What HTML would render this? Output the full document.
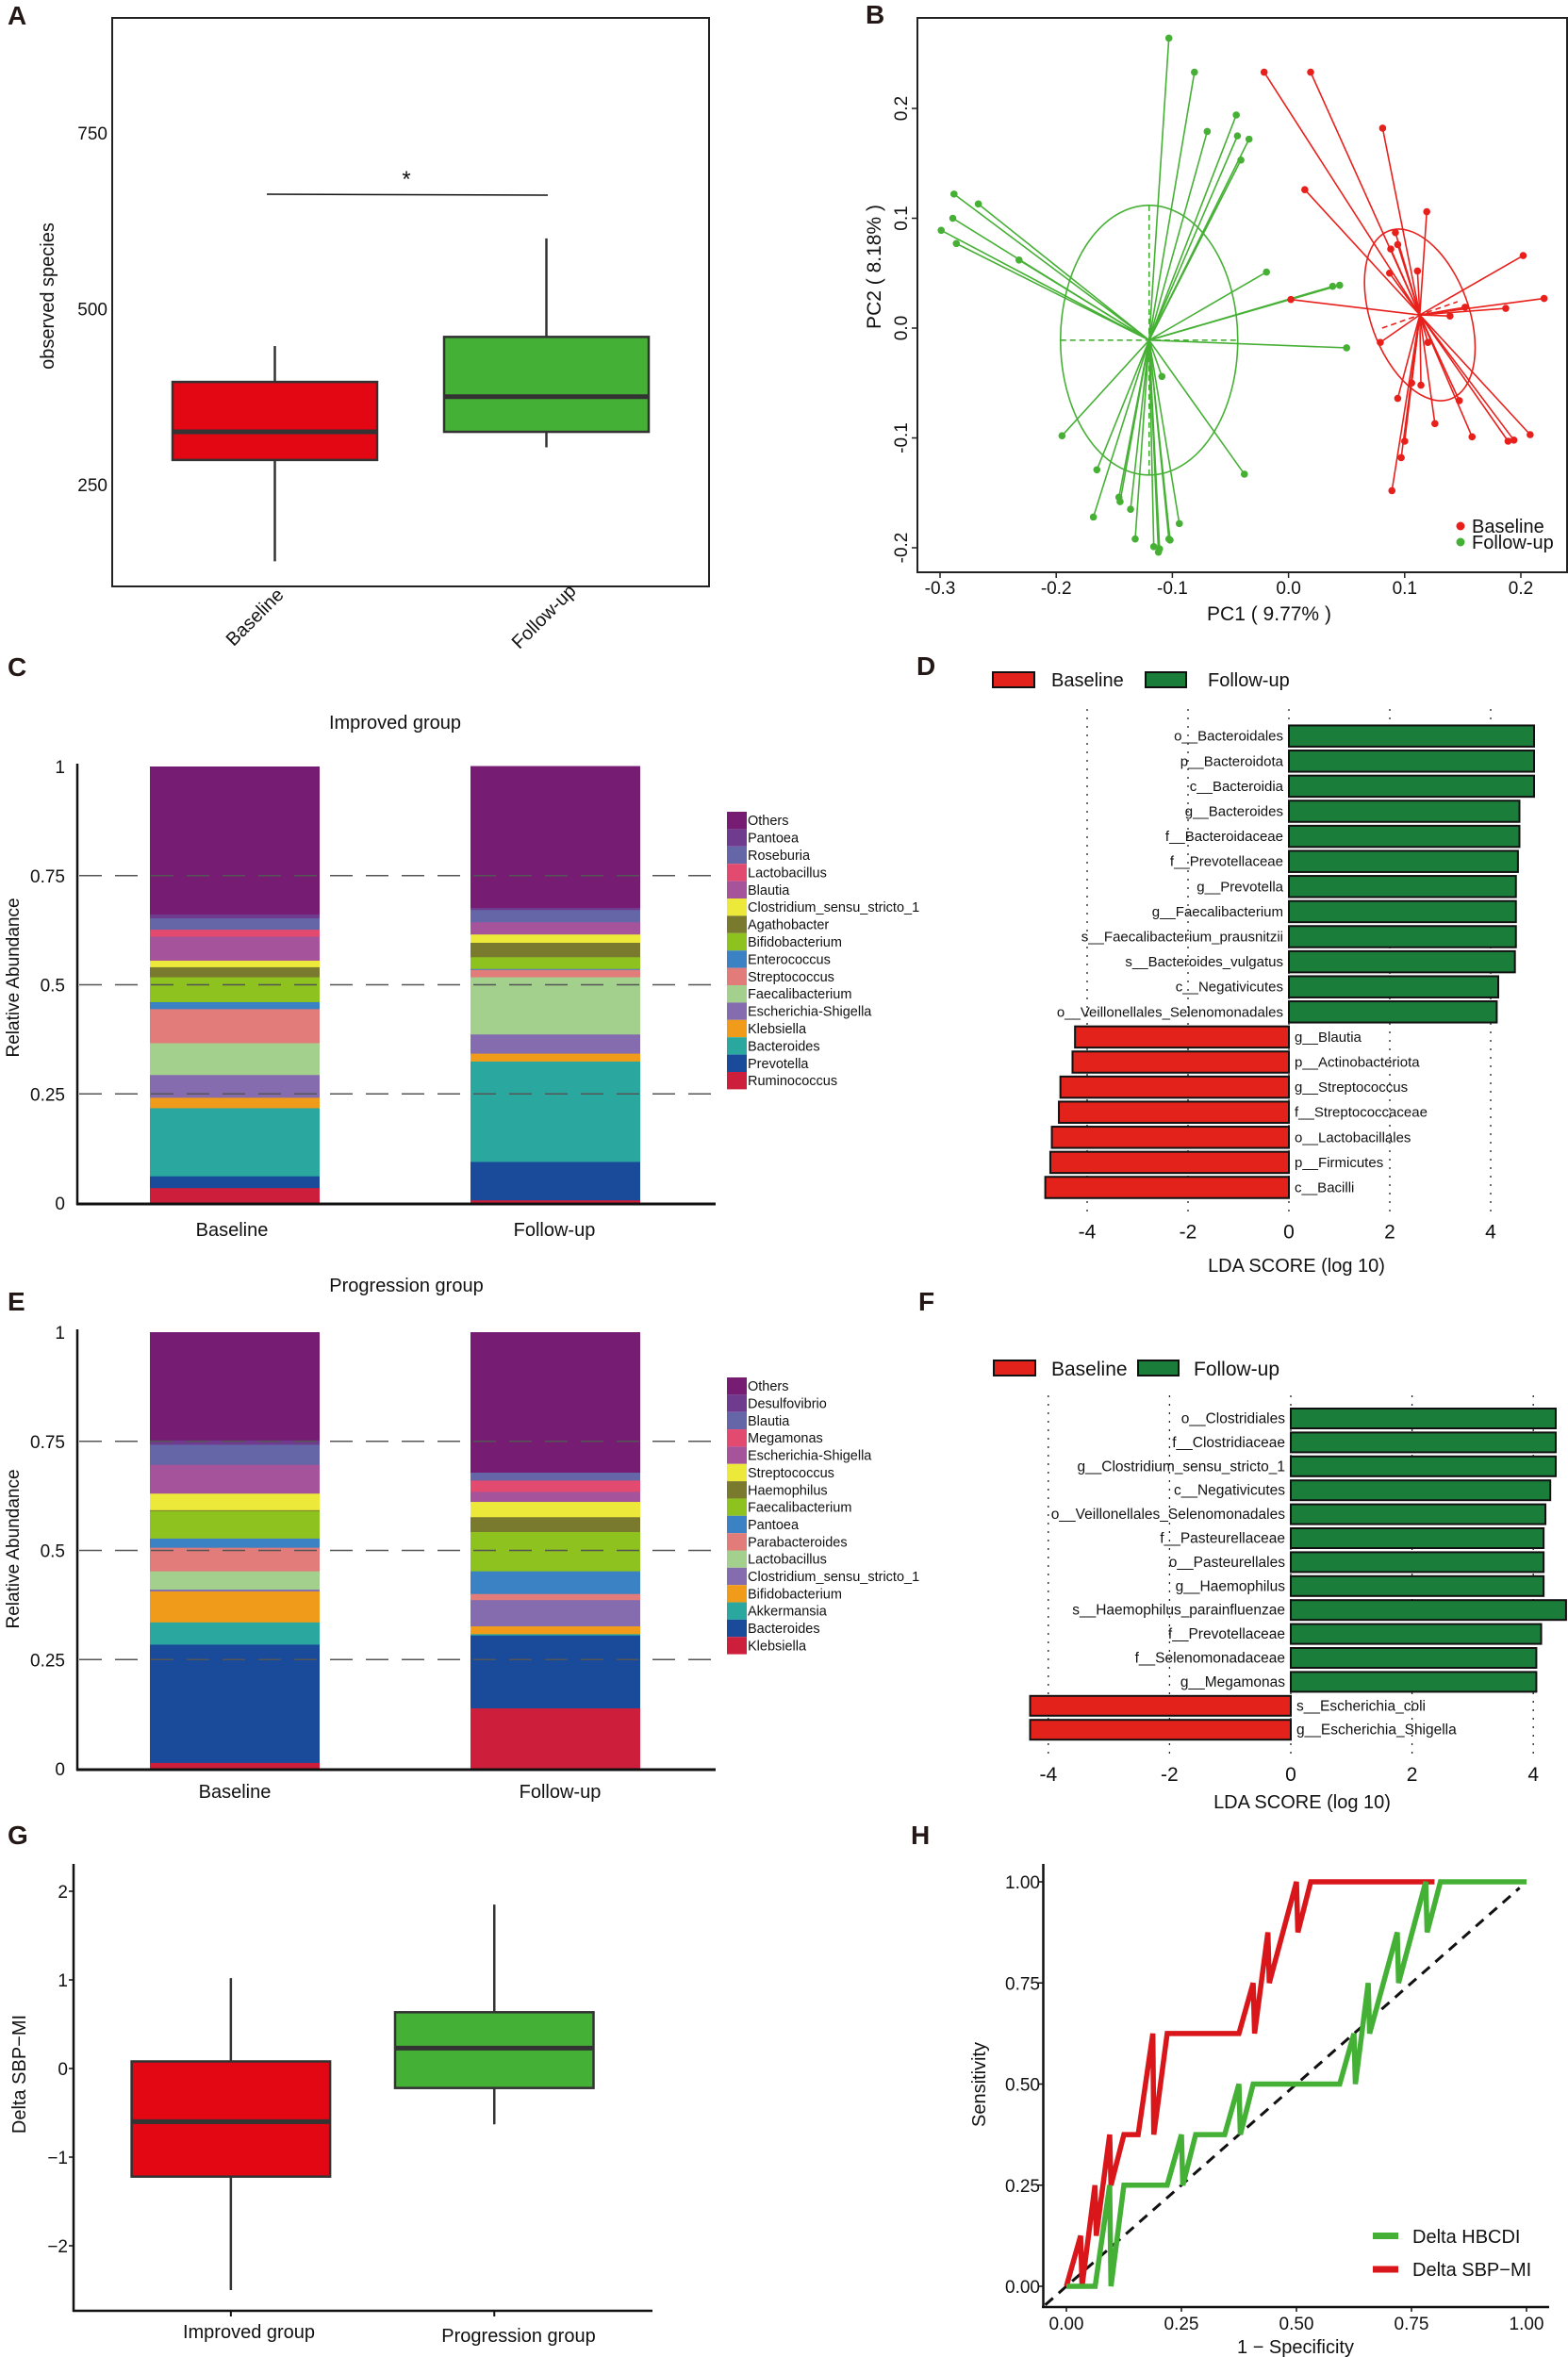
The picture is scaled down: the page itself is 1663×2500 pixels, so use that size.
<!DOCTYPE html>
<html><head><meta charset="utf-8">
<style>
html,body{margin:0;padding:0;background:#fff;}
svg{display:block;font-family:"Liberation Sans",Arial,sans-serif;}
.pl{font-weight:bold;font-size:28px;fill:#231815;}
</style></head>
<body>
<svg id="fig" width="1663" height="2500" viewBox="0 0 1663 2500" xmlns="http://www.w3.org/2000/svg">
<rect x="0" y="0" width="1663" height="2500" fill="#fff"/>
<!-- panel labels -->
<text class="pl" x="8" y="26">A</text>
<text class="pl" x="918" y="25">B</text>
<text class="pl" x="8" y="717">C</text>
<text class="pl" x="972" y="716">D</text>
<text class="pl" x="8" y="1390">E</text>
<text class="pl" x="974" y="1390">F</text>
<text class="pl" x="8" y="1956">G</text>
<text class="pl" x="966" y="1956">H</text>

<!-- Panel A static -->
<g id="pA">
<rect x="119" y="19" width="633" height="603" fill="none" stroke="#222" stroke-width="2"/>
<text x="0" y="0" transform="translate(57,314) rotate(-90)" text-anchor="middle" font-size="20" fill="#111">observed species</text>
<text x="0" y="0" transform="translate(302,632) rotate(-45)" text-anchor="end" font-size="20" fill="#111">Baseline</text>
<text x="0" y="0" transform="translate(612,628) rotate(-45)" text-anchor="end" font-size="20" fill="#111">Follow-up</text>
</g>

<!-- Panel B static -->
<g id="pB">
<rect x="973" y="19" width="689" height="588" fill="none" stroke="#222" stroke-width="2"/>
<text x="1346" y="658" text-anchor="middle" font-size="21" fill="#111">PC1 ( 9.77% )</text>
<text x="0" y="0" transform="translate(934,283) rotate(-90)" text-anchor="middle" font-size="21" fill="#111">PC2 ( 8.18% )</text>
<circle cx="1549" cy="558" r="4.5" fill="#e8201c"/>
<text x="1561" y="565" font-size="20" fill="#111">Baseline</text>
<circle cx="1549" cy="575" r="4.5" fill="#44b035"/>
<text x="1561" y="582" font-size="20" fill="#111">Follow-up</text>
</g>

<!-- Panel C static -->
<g id="pC">
<text x="419" y="773" text-anchor="middle" font-size="20" fill="#111">Improved group</text>
<text x="0" y="0" transform="translate(20,1037) rotate(-90)" text-anchor="middle" font-size="19" fill="#111">Relative Abundance</text>
<text x="246" y="1311" text-anchor="middle" font-size="20" fill="#111">Baseline</text>
<text x="588" y="1311" text-anchor="middle" font-size="20" fill="#111">Follow-up</text>
</g>

<!-- Panel E static -->
<g id="pE">
<text x="431" y="1370" text-anchor="middle" font-size="20" fill="#111">Progression group</text>
<text x="0" y="0" transform="translate(20,1643) rotate(-90)" text-anchor="middle" font-size="19" fill="#111">Relative Abundance</text>
<text x="249" y="1907" text-anchor="middle" font-size="20" fill="#111">Baseline</text>
<text x="594" y="1907" text-anchor="middle" font-size="20" fill="#111">Follow-up</text>
</g>

<!-- Panel D static -->
<g id="pD">
<rect x="1053" y="713" width="44" height="16" fill="#e3221c" stroke="#111" stroke-width="2"/>
<text x="1115" y="728" font-size="20" fill="#111">Baseline</text>
<rect x="1215" y="713" width="43" height="16" fill="#1a7d3a" stroke="#111" stroke-width="2"/>
<text x="1281" y="728" font-size="20" fill="#111">Follow-up</text>
<text x="1375" y="1349" text-anchor="middle" font-size="20" fill="#111">LDA SCORE (log 10)</text>
</g>

<!-- Panel F static -->
<g id="pF">
<rect x="1054" y="1443" width="44" height="16" fill="#e3221c" stroke="#111" stroke-width="2"/>
<text x="1115" y="1459" font-size="21" fill="#111">Baseline</text>
<rect x="1207" y="1443" width="43" height="16" fill="#1a7d3a" stroke="#111" stroke-width="2"/>
<text x="1266" y="1459" font-size="21" fill="#111">Follow-up</text>
<text x="1381" y="1918" text-anchor="middle" font-size="20" fill="#111">LDA SCORE (log 10)</text>
</g>

<!-- Panel G static -->
<g id="pG">
<line x1="78" y1="1977" x2="78" y2="2452" stroke="#111" stroke-width="2.5"/>
<line x1="77" y1="2451" x2="692" y2="2451" stroke="#111" stroke-width="2.5"/>
<text x="0" y="0" transform="translate(27,2200) rotate(-90)" text-anchor="middle" font-size="20" fill="#111">Delta SBP−MI</text>
<text x="264" y="2480" text-anchor="middle" font-size="20" fill="#111">Improved group</text>
<text x="550" y="2484" text-anchor="middle" font-size="20" fill="#111">Progression group</text>
</g>

<!-- Panel H static -->
<g id="pH">
<line x1="1106.5" y1="1977" x2="1106.5" y2="2448" stroke="#111" stroke-width="2.5"/>
<line x1="1105" y1="2447" x2="1643" y2="2447" stroke="#111" stroke-width="2.5"/>
<text x="0" y="0" transform="translate(1045,2211) rotate(-90)" text-anchor="middle" font-size="20" fill="#111">Sensitivity</text>
<text x="1374" y="2496" text-anchor="middle" font-size="20" fill="#111">1 − Specificity</text>
<line x1="1456" y1="2371.5" x2="1483" y2="2371.5" stroke="#44b035" stroke-width="7"/>
<text x="1498" y="2379" font-size="20" fill="#111">Delta HBCDI</text>
<line x1="1456" y1="2407" x2="1483" y2="2407" stroke="#d9161a" stroke-width="7"/>
<text x="1498" y="2414" font-size="20" fill="#111">Delta SBP−MI</text>
</g>
</svg>

<script>
// ---------- DATA ----------
// Panel A box plot (observed species)
const aGroups = ["Baseline", "Follow-up"];
const aMin = [141, 303];
const aQ1 = [285, 325];
const aMedian = [325, 375];
const aQ3 = [396, 460];
const aMax = [447, 600];
const aTicks = [250, 500, 750];

// Panel B PCoA
const bXTicks = [-0.3, -0.2, -0.1, 0.0, 0.1, 0.2];
const bYTicks = [-0.2, -0.1, 0.0, 0.1, 0.2];
const bGreenX = [-0.103,-0.081,-0.045,-0.070,-0.044,-0.034,-0.041,-0.288,-0.267,-0.289,-0.299,-0.286,-0.232,-0.019,0.038,0.044,0.050,-0.109,-0.195,-0.038,-0.165,-0.146,-0.145,-0.136,-0.168,-0.094,-0.132,-0.103,-0.102,-0.116,-0.111,-0.112];
const bGreenY = [0.264,0.233,0.194,0.179,0.175,0.172,0.153,0.122,0.113,0.100,0.089,0.077,0.062,0.051,0.038,0.039,-0.018,-0.044,-0.098,-0.133,-0.129,-0.154,-0.158,-0.165,-0.172,-0.178,-0.192,-0.192,-0.193,-0.199,-0.201,-0.204];
const bRedX = [-0.021,0.019,0.081,0.014,0.119,0.092,0.094,0.088,0.111,0.087,0.202,0.220,0.187,0.152,0.139,0.002,0.079,0.120,0.106,0.114,0.094,0.147,0.126,0.158,0.208,0.189,0.194,0.100,0.097,0.089];
const bRedY = [0.233,0.233,0.182,0.126,0.106,0.087,0.076,0.072,0.052,0.050,0.066,0.027,0.018,0.019,0.011,0.026,-0.013,-0.013,-0.050,-0.052,-0.064,-0.066,-0.087,-0.099,-0.097,-0.103,-0.102,-0.103,-0.118,-0.148];
const bGreenCentroid = [-0.120, -0.011];
const bRedCentroid = [0.113, 0.012];

// Panel C stacked bars (Improved group); order bottom -> top
const cTaxa = ["Ruminococcus","Prevotella","Bacteroides","Klebsiella","Escherichia-Shigella","Faecalibacterium","Streptococcus","Enterococcus","Bifidobacterium","Agathobacter","Clostridium_sensu_stricto_1","Blautia","Lactobacillus","Roseburia","Pantoea","Others"];
const cBaseline = [0.035,0.027,0.156,0.024,0.052,0.073,0.078,0.016,0.057,0.023,0.015,0.055,0.016,0.026,0.009,0.338];
const cFollowup = [0.007,0.088,0.230,0.018,0.044,0.131,0.017,0.002,0.027,0.033,0.019,0.028,0.000,0.028,0.005,0.324];
const cColors = ["#cd1e3c","#1a4a9a","#2aa8a0","#f09c1a","#846caf","#a3d08c","#e27c7a","#3b82c4","#8dc21f","#7a7a2e","#ece93a","#a5539a","#e34a6f","#6466a8","#6e3b8f","#761c73"];

// Panel E stacked bars (Progression group); order bottom -> top
const eTaxa = ["Klebsiella","Bacteroides","Akkermansia","Bifidobacterium","Clostridium_sensu_stricto_1","Lactobacillus","Parabacteroides","Pantoea","Faecalibacterium","Haemophilus","Streptococcus","Escherichia-Shigella","Megamonas","Blautia","Desulfovibrio","Others"];
const eBaseline = [0.014,0.271,0.051,0.071,0.004,0.042,0.054,0.021,0.063,0.002,0.038,0.066,0.000,0.046,0.010,0.247];
const eFollowup = [0.139,0.167,0.003,0.018,0.060,0.000,0.014,0.052,0.090,0.034,0.035,0.023,0.026,0.018,0.000,0.321];
const eColors = ["#cd1e3c","#1a4a9a","#2aa8a0","#f09c1a","#846caf","#a3d08c","#e27c7a","#3b82c4","#8dc21f","#7a7a2e","#ece93a","#a5539a","#e34a6f","#6466a8","#6e3b8f","#761c73"];
const stackTicks = [0, 0.25, 0.5, 0.75, 1];
const stackTickLabels = ["0", "0.25", "0.5", "0.75", "1"];

// Panel D LEfSe
const dLabels = ["o__Bacteroidales","p__Bacteroidota","c__Bacteroidia","g__Bacteroides","f__Bacteroidaceae","f__Prevotellaceae","g__Prevotella","g__Faecalibacterium","s__Faecalibacterium_prausnitzii","s__Bacteroides_vulgatus","c__Negativicutes","o__Veillonellales_Selenomonadales","g__Blautia","p__Actinobacteriota","g__Streptococcus","f__Streptococcaceae","o__Lactobacillales","p__Firmicutes","c__Bacilli"];
const dScores = [4.86,4.86,4.86,4.57,4.57,4.54,4.50,4.50,4.50,4.48,4.15,4.12,-4.24,-4.29,-4.53,-4.56,-4.70,-4.73,-4.83];
const ldaTicks = [-4, -2, 0, 2, 4];

// Panel F LEfSe
const fLabels = ["o__Clostridiales","f__Clostridiaceae","g__Clostridium_sensu_stricto_1","c__Negativicutes","o__Veillonellales_Selenomonadales","f__Pasteurellaceae","o__Pasteurellales","g__Haemophilus","s__Haemophilus_parainfluenzae","f__Prevotellaceae","f__Selenomonadaceae","g__Megamonas","s__Escherichia_coli","g__Escherichia_Shigella"];
const fScores = [4.37,4.37,4.37,4.28,4.20,4.17,4.17,4.17,4.54,4.13,4.05,4.05,-4.30,-4.30];

// Panel G box plot
const gGroups = ["Improved group", "Progression group"];
const gMin = [-2.50, -0.63];
const gQ1 = [-1.22, -0.22];
const gMedian = [-0.60, 0.23];
const gQ3 = [0.08, 0.635];
const gMax = [1.02, 1.85];
const gTicks = [-2, -1, 0, 1, 2];

// Panel H ROC
const hRedFpr = [0.0,0.031,0.034,0.062,0.065,0.094,0.097,0.125,0.156,0.188,0.190,0.219,0.375,0.406,0.409,0.438,0.441,0.500,0.503,0.531,0.800];
const hRedTpr = [0.0,0.125,0.0,0.25,0.125,0.375,0.25,0.375,0.375,0.625,0.375,0.625,0.625,0.75,0.625,0.875,0.75,1.0,0.875,1.0,1.0];
const hGreenFpr = [0.0,0.0625,0.094,0.097,0.125,0.219,0.250,0.253,0.281,0.344,0.375,0.378,0.406,0.594,0.625,0.628,0.656,0.659,0.719,0.722,0.781,0.784,0.813,1.0];
const hGreenTpr = [0.0,0.0,0.25,0.0,0.25,0.25,0.375,0.25,0.375,0.375,0.5,0.375,0.5,0.5,0.625,0.5,0.75,0.625,0.875,0.75,1.0,0.875,1.0,1.0];
const hTicks = [0, 0.25, 0.5, 0.75, 1];
const hTickLabels = ["0.00", "0.25", "0.50", "0.75", "1.00"];

// ---------- HELPERS ----------
const NS = "http://www.w3.org/2000/svg";
function mk(tag, attrs, parent) {
  const el = document.createElementNS(NS, tag);
  for (const k in attrs) el.setAttribute(k, attrs[k]);
  parent.appendChild(el);
  return el;
}
function txt(str, attrs, parent) {
  const el = mk("text", attrs, parent);
  el.textContent = str;
  return el;
}
const svg = document.getElementById("fig");

// ---------- PANEL A ----------
(function () {
  const g = document.getElementById("pA");
  const yA = v => 327.5 - (v - 500) * 0.746;
  const xLeft = [183, 471], bw = 217;
  aTicks.forEach(t => {
    const l = txt(String(t), {x: 114, y: yA(t) + 7, "text-anchor": "end", "font-size": 19, fill: "#111"}, g);
    
    
  });
  aGroups.forEach((name, i) => {
    const cx = xLeft[i] + bw / 2;
    const fill = i === 0 ? "#e30613" : "#44b035";
    const w1 = mk("line", {x1: cx, x2: cx, y1: yA(aMax[i]), y2: yA(aQ3[i]), stroke: "#333", "stroke-width": 2.5}, g);
    
    
    const w2 = mk("line", {x1: cx, x2: cx, y1: yA(aQ1[i]), y2: yA(aMin[i]), stroke: "#333", "stroke-width": 2.5}, g);
    
    
    const b = mk("rect", {x: xLeft[i], y: yA(aQ3[i]), width: bw, height: yA(aQ1[i]) - yA(aQ3[i]), fill: fill, stroke: "#333", "stroke-width": 2.5}, g);
    
    
    const m = mk("line", {x1: xLeft[i], x2: xLeft[i] + bw, y1: yA(aMedian[i]), y2: yA(aMedian[i]), stroke: "#333", "stroke-width": 5}, g);
    
    
  });
  const sl = mk("line", {x1: 283, x2: 581, y1: 206, y2: 207, stroke: "#111", "stroke-width": 1.5}, g);
  
  
  const st = txt("*", {x: 431, y: 198, "text-anchor": "middle", "font-size": 24, fill: "#111"}, g);
  
  
})();

// ---------- PANEL B ----------
(function () {
  const g = document.getElementById("pB");
  const xB = v => 997 + (v + 0.3) * 1232;
  const yB = v => 348 - v * 1165;
  bXTicks.forEach(t => {
    const tk = mk("line", {x1: xB(t), x2: xB(t), y1: 607, y2: 613, stroke: "#222", "stroke-width": 1.5}, g);
    
    
    const l = txt(t.toFixed(1), {x: xB(t), y: 630, "text-anchor": "middle", "font-size": 19, fill: "#111"}, g);
    
    
  });
  bYTicks.forEach(t => {
    const tk = mk("line", {x1: 967, x2: 973, y1: yB(t), y2: yB(t), stroke: "#222", "stroke-width": 1.5}, g);
    
    
    const l = txt(t.toFixed(1), {x: 0, y: 0, transform: "translate(962," + yB(t) + ") rotate(-90)", "text-anchor": "middle", "font-size": 19, fill: "#111"}, g);
    
    
  });
  function group(xs, ys, cen, col, nm) {
    const cx = xB(cen[0]), cy = yB(cen[1]);
    xs.forEach((x, i) => {
      const ln = mk("line", {x1: cx, y1: cy, x2: xB(x), y2: yB(ys[i]), stroke: col, "stroke-width": 1.6}, g);
      
      
    });
    xs.forEach((x, i) => {
      const p = mk("circle", {cx: xB(x), cy: yB(ys[i]), r: 3.8, fill: col}, g);
      
      
    });
  }
  group(bGreenX, bGreenY, bGreenCentroid, "#46b035", "followup");
  group(bRedX, bRedY, bRedCentroid, "#e8201c", "baseline");
  const gcx = xB(bGreenCentroid[0]), gcy = yB(bGreenCentroid[1]);
  const ge = mk("ellipse", {cx: gcx, cy: gcy, rx: 94, ry: 143, fill: "none", stroke: "#46b035", "stroke-width": 1.6}, g);
  
  
  const gd1 = mk("line", {x1: gcx - 94, x2: gcx + 94, y1: gcy, y2: gcy, stroke: "#46b035", "stroke-width": 1.6, "stroke-dasharray": "6,4"}, g);
  
  
  const gd2 = mk("line", {x1: gcx, x2: gcx, y1: gcy - 143, y2: gcy + 143, stroke: "#46b035", "stroke-width": 1.6, "stroke-dasharray": "6,4"}, g);
  
  
  const rcx = xB(bRedCentroid[0]), rcy = yB(bRedCentroid[1]);
  const re = mk("ellipse", {cx: rcx, cy: rcy, rx: 52, ry: 95, fill: "none", stroke: "#e8201c", "stroke-width": 1.6, transform: "rotate(-20 " + rcx + " " + rcy + ")"}, g);
  
  
  const rd = mk("line", {x1: rcx - 40, x2: rcx + 40, y1: rcy + 14, y2: rcy - 14, stroke: "#e8201c", "stroke-width": 1.6, "stroke-dasharray": "6,4"}, g);
  
  
})();

// ---------- PANELS C / E ----------
function stacked(gid, base, follow, taxa, colors, yBottom, legendTop, legendStep, tag) {
  const g = document.getElementById(gid);
  const ys = v => yBottom - v * 463;
  stackTicks.forEach((t, i) => {
    const l = txt(stackTickLabels[i], {x: 69, y: ys(t) + 7, "text-anchor": "end", "font-size": 19, fill: "#111"}, g);
    
    
  });
  const bars = [base, follow], bx = [159, 499], bw = 180;
  bars.forEach((vals, bi) => {
    let acc = 0;
    vals.forEach((v, k) => {
      if (v <= 0) { return; }
      const r = mk("rect", {x: bx[bi], y: ys(acc + v), width: bw, height: ys(acc) - ys(acc + v) + 0.4, fill: colors[k]}, g);
      
      
      acc += v;
    });
  });
  [0.25, 0.5, 0.75].forEach(t => {
    const gl = mk("line", {x1: 84, x2: 758, y1: ys(t), y2: ys(t), stroke: "#555", "stroke-width": 1.6, "stroke-dasharray": "24,14"}, g);
    
    
  });
  const ya = mk("line", {x1: 82, x2: 82, y1: ys(1) - 3, y2: yBottom + 2, stroke: "#111", "stroke-width": 2.5}, g);
  
  
  const xa = mk("line", {x1: 81, x2: 759, y1: yBottom + 1, y2: yBottom + 1, stroke: "#111", "stroke-width": 3}, g);
  
  
  for (let k = 0; k < taxa.length; k++) {
    const idx = taxa.length - 1 - k;
    const y = legendTop + k * legendStep;
    const sw = mk("rect", {x: 771, y: y, width: 21, height: legendStep, fill: colors[idx]}, g);
    
    
    const lt = txt(taxa[idx], {x: 793, y: y + legendStep / 2 + 5, "font-size": 14.5, fill: "#111"}, g);
    
    
  }
}
stacked("pC", cBaseline, cFollowup, cTaxa, cColors, 1276, 861, 18.4, "c");
stacked("pE", eBaseline, eFollowup, eTaxa, eColors, 1876, 1461, 18.35, "e");

// ---------- PANELS D / F ----------
function lefse(gid, labels, scores, x0, unit, row0, step, bh, gTop, gBot, tickY, fs, tag) {
  const g = document.getElementById(gid);
  const xs = v => x0 + v * unit;
  ldaTicks.forEach(t => {
    const gl = mk("line", {x1: xs(t), x2: xs(t), y1: gTop, y2: gBot, stroke: "#222", "stroke-width": 1.3, "stroke-dasharray": "2,7"}, g);
    
    
    const tl = txt(String(t), {x: xs(t), y: tickY + 8, "text-anchor": "middle", "font-size": 21, fill: "#111"}, g);
    
    
  });
  labels.forEach((lab, i) => {
    const v = scores[i];
    const cy = row0 + i * step;
    const r = mk("rect", {x: Math.min(xs(0), xs(v)), y: cy - bh / 2, width: Math.abs(xs(v) - xs(0)), height: bh, fill: v > 0 ? "#1a7d3a" : "#e3221c", stroke: "#111", "stroke-width": 2}, g);
    
    
    const t = txt(lab, {x: v > 0 ? xs(0) - 6 : xs(0) + 6, y: cy + 5, "text-anchor": v > 0 ? "end" : "start", "font-size": fs, fill: "#111"}, g);
    
    
  });
}
lefse("pD", dLabels, dScores, 1367, 53.5, 780.7, 26.6, 22.5, 752, 1286, 1305.5, 15, "d");
lefse("pF", fLabels, fScores, 1369, 64.3, 1504.5, 25.4, 21, 1480, 1860, 1881, 15.5, "f");

// ---------- PANEL G ----------
(function () {
  const g = document.getElementById("pG");
  const yG = v => 2194 - v * 94;
  gTicks.forEach(t => {
    const tk = mk("line", {x1: 73, x2: 78, y1: yG(t), y2: yG(t), stroke: "#111", "stroke-width": 1.5}, g);
    
    
    const l = txt(t < 0 ? "−" + Math.abs(t) : String(t), {x: 72, y: yG(t) + 7, "text-anchor": "end", "font-size": 19, fill: "#111"}, g);
    
    
  });
  const xl = [139.6, 419], bw = 210.5;
  gGroups.forEach((name, i) => {
    const cx = xl[i] + bw / 2;
    const tk = mk("line", {x1: cx, x2: cx, y1: 2451, y2: 2457, stroke: "#111", "stroke-width": 2}, g);
    
    
    const w1 = mk("line", {x1: cx, x2: cx, y1: yG(gMax[i]), y2: yG(gQ3[i]), stroke: "#333", "stroke-width": 2.5}, g);
    
    
    const w2 = mk("line", {x1: cx, x2: cx, y1: yG(gQ1[i]), y2: yG(gMin[i]), stroke: "#333", "stroke-width": 2.5}, g);
    
    
    const b = mk("rect", {x: xl[i], y: yG(gQ3[i]), width: bw, height: yG(gQ1[i]) - yG(gQ3[i]), fill: i === 0 ? "#e30613" : "#44b035", stroke: "#333", "stroke-width": 2.5}, g);
    
    
    const m = mk("line", {x1: xl[i], x2: xl[i] + bw, y1: yG(gMedian[i]), y2: yG(gMedian[i]), stroke: "#333", "stroke-width": 5}, g);
    
    
  });
})();

// ---------- PANEL H ----------
(function () {
  const g = document.getElementById("pH");
  const xH = v => 1131 + v * 488;
  const yH = v => 2425 - v * 429;
  hTicks.forEach((t, i) => {
    const tx = mk("line", {x1: xH(t), x2: xH(t), y1: 2447, y2: 2452, stroke: "#111", "stroke-width": 1.5}, g);
    
    
    const lx = txt(hTickLabels[i], {x: xH(t), y: 2471, "text-anchor": "middle", "font-size": 19, fill: "#111"}, g);
    
    
    const ty = mk("line", {x1: 1101, x2: 1106.5, y1: yH(t), y2: yH(t), stroke: "#111", "stroke-width": 1.5}, g);
    
    
    const ly = txt(hTickLabels[i], {x: 1103, y: yH(t) + 7, "text-anchor": "end", "font-size": 19, fill: "#111"}, g);
    
    
  });
  const dg = mk("line", {x1: xH(-0.046), y1: yH(-0.046), x2: xH(0.985), y2: yH(0.985), stroke: "#111", "stroke-width": 3, "stroke-dasharray": "11,8"}, g);
  
  
  function curve(fx, ty, col, nm) {
    const pts = fx.map((x, i) => xH(x).toFixed(1) + "," + yH(ty[i]).toFixed(1)).join(" ");
    const pl = mk("polyline", {points: pts, fill: "none", stroke: col, "stroke-width": 5.5, "stroke-linejoin": "miter", "stroke-miterlimit": 3}, g);
    
    
  }
  curve(hRedFpr, hRedTpr, "#d9161a", "roc-curve-sbpmi");
  curve(hGreenFpr, hGreenTpr, "#44b035", "roc-curve-hbcdi");
})();
</script>
</body></html>
